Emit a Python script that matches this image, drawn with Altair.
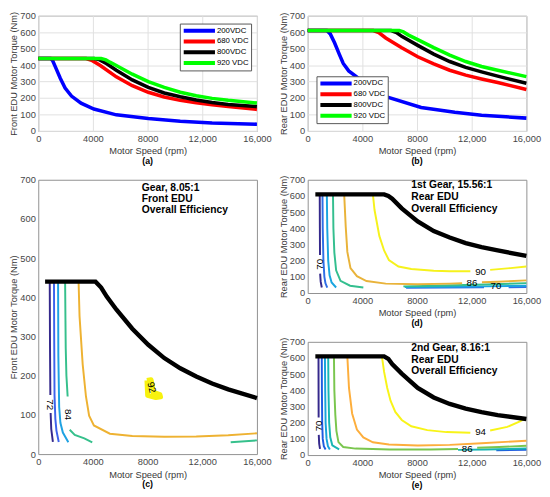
import altair as alt
import pandas as pd

FONT = "Liberation Sans"

# ---------------- (a) Front EDU torque envelopes ----------------
SERIES = ["200VDC", "680 VDC", "800VDC", "920 VDC"]
SERIES_COLORS = ["#0000ff", "#ff0000", "#000000", "#00ff00"]

FRONT_200_RPM = [0, 900, 1050, 1260, 1610, 1965, 2430, 3130, 4070, 5710, 8050, 10390, 12720, 16000]
FRONT_200_NM = [440, 440, 428, 388, 320, 261, 212, 169, 133, 98, 75, 59, 49, 41]
FRONT_680_RPM = [0, 3500, 3900, 4540, 5710, 6880, 8050, 9220, 10390, 11560, 12720, 13900, 16000]
FRONT_680_NM = [440, 440, 430, 398, 329, 275, 235, 206, 186, 171, 159, 149, 131]
FRONT_800_RPM = [0, 4100, 4500, 5010, 5710, 6880, 8050, 9220, 10390, 11560, 12720, 13900, 16000]
FRONT_800_NM = [440, 440, 432, 408, 369, 310, 265, 231, 208, 188, 173, 161, 148]
FRONT_920_RPM = [0, 4600, 4950, 5240, 5710, 6880, 8050, 9220, 10390, 11560, 12720, 13900, 16000]
FRONT_920_NM = [440, 440, 432, 418, 398, 345, 300, 265, 235, 214, 198, 186, 170]

# ---------------- (b) Rear EDU torque envelopes ----------------
REAR_200_RPM = [0, 1400, 1650, 1965, 2315, 2600, 3000, 3580, 4500, 5845, 8300, 10760, 12720, 16000]
REAR_200_NM = [610, 610, 590, 536, 465, 410, 365, 329, 262, 206, 143, 114, 95, 78]
REAR_680_RPM = [0, 4800, 5200, 5710, 6880, 8050, 9220, 10390, 11560, 12720, 13900, 16000]
REAR_680_NM = [610, 610, 598, 565, 506, 451, 408, 369, 339, 316, 294, 252]
REAR_800_RPM = [0, 6100, 6500, 6880, 8050, 9220, 10390, 11560, 12720, 13900, 16000]
REAR_800_NM = [610, 610, 598, 575, 520, 467, 422, 386, 359, 333, 290]
REAR_920_RPM = [0, 6700, 7000, 7345, 8050, 9220, 10390, 11560, 12720, 13900, 16000]
REAR_920_NM = [610, 610, 602, 584, 555, 506, 461, 422, 392, 369, 330]

# ---------------- (c) Front EDU efficiency map, gear 8.05:1 ----------------
C_ENV_RPM = [500, 4190, 4600, 5010, 5710, 6880, 8050, 9220, 10390, 11560, 12720, 13900, 16000]
C_ENV_NM = [440, 440, 425, 402, 369, 320, 279, 245, 219, 198, 180, 165, 143]
C_LEVELS = ["72", "76", "80", "84", "88", "92"]
C_COLORS = ["#35298c", "#3d63ec", "#1ea2e2", "#36c08c", "#eeb232", "#f7f20e"]
C_72A_RPM = [840, 860, 885]
C_72A_NM = [440, 270, 151]
C_72B_RPM = [905, 950, 1070]
C_72B_NM = [105, 64, 31]
C_76_RPM = [1150, 1165, 1190, 1250, 1330, 1500]
C_76_NM = [440, 300, 150, 90, 60, 31]
C_80_RPM = [1450, 1470, 1530, 1620, 1800, 2200]
C_80_NM = [440, 250, 120, 80, 55, 30]
C_84A_RPM = [1965, 1990, 2010, 2060, 2150]
C_84A_NM = [440, 340, 270, 200, 147]
C_84B_RPM = [2300, 2670, 3370, 3950]
C_84B_NM = [62, 49, 40, 30]
C_84C_RPM = [14080, 16000]
C_84C_NM = [30, 35]
C_88_RPM = [2950, 3020, 3250, 3490, 3720, 4070, 5240, 6880, 9220, 11560, 13900, 16000]
C_88_NM = [440, 352, 229, 147, 98, 73, 52, 46, 44, 45, 48, 53]
C_92_RPM = [7950, 8250, 8350, 8400, 8900, 8950, 8600, 8000, 7950]
C_92_NM = [188, 190, 175, 158, 152, 146, 144, 150, 188]
C_LABEL_TEXT = ["72", "84", "92"]
C_LABEL_RPM = [870, 2180, 8280]
C_LABEL_NM = [126, 101, 170]
C_LABEL_ANGLE = [90, 90, 75]
C_NOTE = "Gear, 8.05:1\nFront EDU\nOverall Efficiency"

# ---------------- (d) Rear EDU 1st gear 15.56:1 ----------------
D_ENV_RPM = [560, 5590, 5900, 6180, 6880, 8050, 9220, 10390, 11560, 12720, 13900, 16000]
D_ENV_NM = [610, 610, 600, 583, 523, 443, 383, 343, 309, 283, 263, 229]
D_LEVELS = ["70", "74", "78", "82", "86", "90"]
D_COLORS = ["#35298c", "#2f6ee6", "#1aa5df", "#34bf8f", "#e9b33a", "#f6f21c"]
D_70A_RPM = [880, 890, 900]
D_70A_NM = [610, 400, 235]
D_70B_RPM = [910, 950, 1030]
D_70B_NM = [120, 70, 34]
D_74A_RPM = [1080, 1100, 1150, 1220, 1300, 1430]
D_74A_NM = [610, 400, 200, 100, 60, 34]
D_74B_RPM = [7200, 10000, 12900]
D_74B_NM = [33, 34, 35]
D_74C_RPM = [14700, 16000]
D_74C_NM = [36, 37]
D_78A_RPM = [1400, 1430, 1500, 1600, 1750, 2080]
D_78A_NM = [610, 400, 200, 110, 65, 34]
D_78B_RPM = [7100, 10000, 13000, 16000]
D_78B_NM = [37, 39, 41, 45]
D_82A_RPM = [1850, 1880, 1950, 2080, 2400, 3100, 4070]
D_82A_NM = [610, 400, 250, 140, 75, 45, 34]
D_82B_RPM = [7000, 10000, 13000, 16000]
D_82B_NM = [41, 46, 53, 61]
D_86A_RPM = [2670, 2780, 2900, 3130, 3600, 4300, 5710, 8050, 10390, 11300]
D_86A_NM = [610, 413, 254, 154, 104, 74, 58, 54, 58, 60]
D_86B_RPM = [12750, 13900, 16000]
D_86B_NM = [67, 70, 78]
D_90A_RPM = [4770, 4890, 5240, 5590, 5940, 6640, 7580, 9220, 10390, 11900]
D_90A_NM = [610, 513, 353, 263, 204, 164, 148, 138, 134, 134]
D_90B_RPM = [13350, 14830, 16000]
D_90B_NM = [143, 154, 164]
D_LABEL_TEXT = ["70", "90", "86", "70"]
D_LABEL_RPM = [900, 12650, 12020, 13780]
D_LABEL_NM = [178, 131, 63, 40]
D_LABEL_ANGLE = [270, 0, 0, 0]
D_NOTE = "1st Gear, 15.56:1\nRear EDU\nOverall Efficiency"

# ---------------- (e) Rear EDU 2nd gear 8.16:1 ----------------
E_ENV_RPM = [560, 5590, 5900, 6180, 6880, 8050, 9220, 10390, 11560, 12720, 13900, 16000]
E_ENV_NM = [610, 610, 595, 563, 504, 415, 356, 316, 287, 265, 247, 223]
E_LEVELS = ["70", "74", "78", "82", "86", "90", "94"]
E_COLORS = ["#35298c", "#1f5ce0", "#17a3dc", "#18b6b4", "#7ac64e", "#fdae3c", "#f8f418"]
E_70A_RPM = [790, 795, 800]
E_70A_NM = [610, 400, 232]
E_70B_RPM = [810, 840, 900]
E_70B_NM = [125, 70, 38]
E_74A_RPM = [1030, 1040, 1060, 1100, 1180, 1310]
E_74A_NM = [610, 400, 200, 100, 55, 35]
E_74B_RPM = [13800, 16000]
E_74B_NM = [30, 32]
E_78_RPM = [1260, 1280, 1310, 1380, 1480, 1620]
E_78_NM = [610, 400, 200, 100, 55, 35]
E_82A_RPM = [1500, 1520, 1570, 1650, 1800, 2300]
E_82A_NM = [610, 400, 200, 110, 60, 35]
E_82B_RPM = [11000, 13000, 16000]
E_82B_NM = [32, 34, 40]
E_86A_RPM = [1920, 1950, 2020, 2100, 2250, 2600, 3500, 6000, 9000, 11000]
E_86A_NM = [610, 400, 250, 150, 80, 50, 40, 35, 35, 38]
E_86B_RPM = [12400, 14000, 16000]
E_86B_NM = [45, 50, 57]
E_90_RPM = [2900, 3020, 3250, 3600, 4070, 4770, 5940, 8050, 10390, 12720, 16000]
E_90_NM = [610, 415, 257, 158, 109, 79, 65, 59, 63, 73, 89]
E_94A_RPM = [5430, 5590, 5820, 6060, 6410, 6880, 7580, 8750, 10150, 11900]
E_94A_NM = [610, 514, 415, 336, 267, 217, 178, 154, 142, 138]
E_94B_RPM = [13350, 14600, 15530, 15900]
E_94B_NM = [152, 174, 208, 225]
E_LABEL_TEXT = ["70", "94", "86"]
E_LABEL_RPM = [805, 12650, 11670]
E_LABEL_NM = [180, 145, 40]
E_LABEL_ANGLE = [270, 0, 0]
E_NOTE = "2nd Gear, 8.16:1\nRear EDU\nOverall Efficiency"

X_TICKS = [0, 4000, 8000, 12000, 16000]
Y_TICKS = [0, 100, 200, 300, 400, 500, 600, 700]
X_TITLE = "Motor Speed (rpm)"
FRONT_Y_TITLE = "Front EDU Motor Torque (Nm)"
REAR_Y_TITLE = "Rear EDU Motor Torque (Nm)"

W = 224
H_TOP = 118
H_C = 281
H_DE = 116

X_LABELS = "datum.value >= 10000 ? format(datum.value, ',') : format(datum.value, 'd')"
X_AXIS_GRID = alt.Axis(values=X_TICKS, grid=True, gridColor="#e0e0e0", ticks=False, domain=False,
                       labelFlush=False, labelOverlap=False, labelPadding=3, titlePadding=3,
                       labelExpr=X_LABELS)
X_AXIS_PLAIN = alt.Axis(values=X_TICKS, grid=False, ticks=False, domain=False,
                        labelFlush=False, labelOverlap=False, labelPadding=3, titlePadding=3,
                        labelExpr=X_LABELS)


def y_axis(grid):
    return alt.Axis(values=Y_TICKS, grid=grid, gridColor="#e0e0e0", ticks=False, domain=False,
                    labelFlush=False, labelOverlap=False, labelPadding=3, titlePadding=1)


def lines_df(parts):
    rows = []
    for key, seg, xs_, ys_ in parts:
        for i, (x, y) in enumerate(zip(xs_, ys_)):
            rows.append({"key": key, "seg": key + "_" + seg, "i": i, "x": x, "y": y})
    return pd.DataFrame(rows)


def xs(grid):
    return alt.X("x:Q", title=X_TITLE, scale=alt.Scale(domain=[0, 16000], nice=False, zero=False),
                 axis=X_AXIS_GRID if grid else X_AXIS_PLAIN)


def ys(title, grid):
    return alt.Y("y:Q", title=title, scale=alt.Scale(domain=[0, 700], nice=False), axis=y_axis(grid))


def panel_tag(tag, h):
    return alt.Chart(pd.DataFrame({"t": [tag]})).mark_text(
        fontWeight="bold", fontSize=9, font=FONT, color="#000", baseline="middle"
    ).encode(text="t:N", x=alt.value(W / 2), y=alt.value(h + 31))


def envelope_panel(parts, ytitle, lx, ly, tag):
    df = lines_df(parts)
    lines = alt.Chart(df).mark_line(strokeWidth=3.6).encode(
        x=xs(True), y=ys(ytitle, True),
        color=alt.Color("key:N", scale=alt.Scale(domain=SERIES, range=SERIES_COLORS),
                        legend=alt.Legend(orient="none", legendX=lx, legendY=ly, title=None,
                                          symbolType="stroke", symbolSize=1024, symbolStrokeWidth=4,
                                          clipHeight=10.8, labelFontSize=8, labelFont=FONT,
                                          labelColor="#000", fillColor="white", strokeColor="#555",
                                          padding=2, rowPadding=0, labelOffset=0)),
        detail="seg:N", order="i:Q")
    return alt.layer(lines, panel_tag(tag, H_TOP)).properties(width=W, height=H_TOP)


def contour_panel(parts, env_x, env_y, levels, colors, lab_t, lab_x, lab_y, lab_a, note, note_y,
                  note_lh, ytitle, h, tag, blobs=None):
    cscale = alt.Scale(domain=levels, range=colors)
    contours = alt.Chart(lines_df(parts)).mark_line(strokeWidth=2).encode(
        x=xs(False), y=ys(ytitle, False),
        color=alt.Color("key:N", scale=cscale, legend=None),
        detail="seg:N", order="i:Q")
    layers = [contours]
    if blobs:
        layers.append(alt.Chart(lines_df(blobs)).mark_line(strokeWidth=5, strokeJoin="round").encode(
            x=xs(False), y=ys(ytitle, False),
            color=alt.Color("key:N", scale=cscale, legend=None),
            detail="seg:N", order="i:Q"))
    env = alt.Chart(pd.DataFrame({"x": env_x, "y": env_y, "i": list(range(len(env_x)))})).mark_line(
        strokeWidth=4.5, color="#000").encode(x=xs(False), y=ys(ytitle, False), order="i:Q")
    labels = alt.Chart(pd.DataFrame({"t": lab_t, "x": lab_x, "y": lab_y, "a": lab_a})).mark_text(
        fontSize=10, font=FONT, color="#000", baseline="middle", align="center").encode(
        x=xs(False), y=ys(ytitle, False), text="t:N", angle=alt.Angle("a:Q", scale=None))
    note_m = alt.Chart(pd.DataFrame({"t": [note], "x": [7580], "y": [note_y]})).mark_text(
        lineBreak="\n", align="left", baseline="top", fontWeight="bold", fontSize=10.5,
        lineHeight=note_lh, font=FONT, color="#000").encode(
        x=xs(False), y=ys(ytitle, False), text="t:N")
    layers += [env, labels, note_m, panel_tag(tag, h)]
    return alt.layer(*layers).properties(width=W, height=h)


panel_a = envelope_panel([
    ("200VDC", "0", FRONT_200_RPM, FRONT_200_NM),
    ("680 VDC", "0", FRONT_680_RPM, FRONT_680_NM),
    ("800VDC", "0", FRONT_800_RPM, FRONT_800_NM),
    ("920 VDC", "0", FRONT_920_RPM, FRONT_920_NM),
], FRONT_Y_TITLE, 145, 8, "(a)")

panel_b = envelope_panel([
    ("200VDC", "0", REAR_200_RPM, REAR_200_NM),
    ("680 VDC", "0", REAR_680_RPM, REAR_680_NM),
    ("800VDC", "0", REAR_800_RPM, REAR_800_NM),
    ("920 VDC", "0", REAR_920_RPM, REAR_920_NM),
], REAR_Y_TITLE, 9, 62, "(b)")

panel_c = contour_panel([
    ("72", "a", C_72A_RPM, C_72A_NM), ("72", "b", C_72B_RPM, C_72B_NM),
    ("76", "a", C_76_RPM, C_76_NM), ("80", "a", C_80_RPM, C_80_NM),
    ("84", "a", C_84A_RPM, C_84A_NM), ("84", "b", C_84B_RPM, C_84B_NM), ("84", "c", C_84C_RPM, C_84C_NM),
    ("88", "a", C_88_RPM, C_88_NM),
], C_ENV_RPM, C_ENV_NM, C_LEVELS, C_COLORS, C_LABEL_TEXT, C_LABEL_RPM, C_LABEL_NM, C_LABEL_ANGLE,
    C_NOTE, 690, 11, FRONT_Y_TITLE, H_C, "(c)", blobs=[("92", "a", C_92_RPM, C_92_NM)])

panel_d = contour_panel([
    ("70", "a", D_70A_RPM, D_70A_NM), ("70", "b", D_70B_RPM, D_70B_NM),
    ("74", "a", D_74A_RPM, D_74A_NM), ("74", "b", D_74B_RPM, D_74B_NM), ("74", "c", D_74C_RPM, D_74C_NM),
    ("78", "a", D_78A_RPM, D_78A_NM), ("78", "b", D_78B_RPM, D_78B_NM),
    ("82", "a", D_82A_RPM, D_82A_NM), ("82", "b", D_82B_RPM, D_82B_NM),
    ("86", "a", D_86A_RPM, D_86A_NM), ("86", "b", D_86B_RPM, D_86B_NM),
    ("90", "a", D_90A_RPM, D_90A_NM), ("90", "b", D_90B_RPM, D_90B_NM),
], D_ENV_RPM, D_ENV_NM, D_LEVELS, D_COLORS, D_LABEL_TEXT, D_LABEL_RPM, D_LABEL_NM, D_LABEL_ANGLE,
    D_NOTE, 700, 12.5, REAR_Y_TITLE, H_DE, "(d)")

panel_e = contour_panel([
    ("70", "a", E_70A_RPM, E_70A_NM), ("70", "b", E_70B_RPM, E_70B_NM),
    ("74", "a", E_74A_RPM, E_74A_NM), ("74", "b", E_74B_RPM, E_74B_NM),
    ("78", "a", E_78_RPM, E_78_NM),
    ("82", "a", E_82A_RPM, E_82A_NM), ("82", "b", E_82B_RPM, E_82B_NM),
    ("86", "a", E_86A_RPM, E_86A_NM), ("86", "b", E_86B_RPM, E_86B_NM),
    ("90", "a", E_90_RPM, E_90_NM),
    ("94", "a", E_94A_RPM, E_94A_NM), ("94", "b", E_94B_RPM, E_94B_NM),
], E_ENV_RPM, E_ENV_NM, E_LEVELS, E_COLORS, E_LABEL_TEXT, E_LABEL_RPM, E_LABEL_NM, E_LABEL_ANGLE,
    E_NOTE, 692, 12, REAR_Y_TITLE, H_DE, "(e)")

IND = dict(x="independent", y="independent", color="independent")

left = alt.vconcat(panel_a, panel_c, spacing=7).resolve_scale(**IND)
right = alt.vconcat(panel_b, panel_d, panel_e, spacing=7).resolve_scale(**IND)

chart = alt.hconcat(left, right, spacing=5).resolve_scale(**IND).properties(
    padding={"left": 0, "top": -4, "right": 0, "bottom": 0}
).configure(font=FONT).configure_view(
    stroke="#8f8f8f", strokeWidth=1
).configure_axis(
    labelFont=FONT, titleFont=FONT, labelFontSize=9.5, titleFontSize=9.5,
    labelColor="#474747", titleColor="#383838", titleFontWeight="normal"
)

chart.save("out.html", embed_options={"renderer": "svg", "actions": False})
